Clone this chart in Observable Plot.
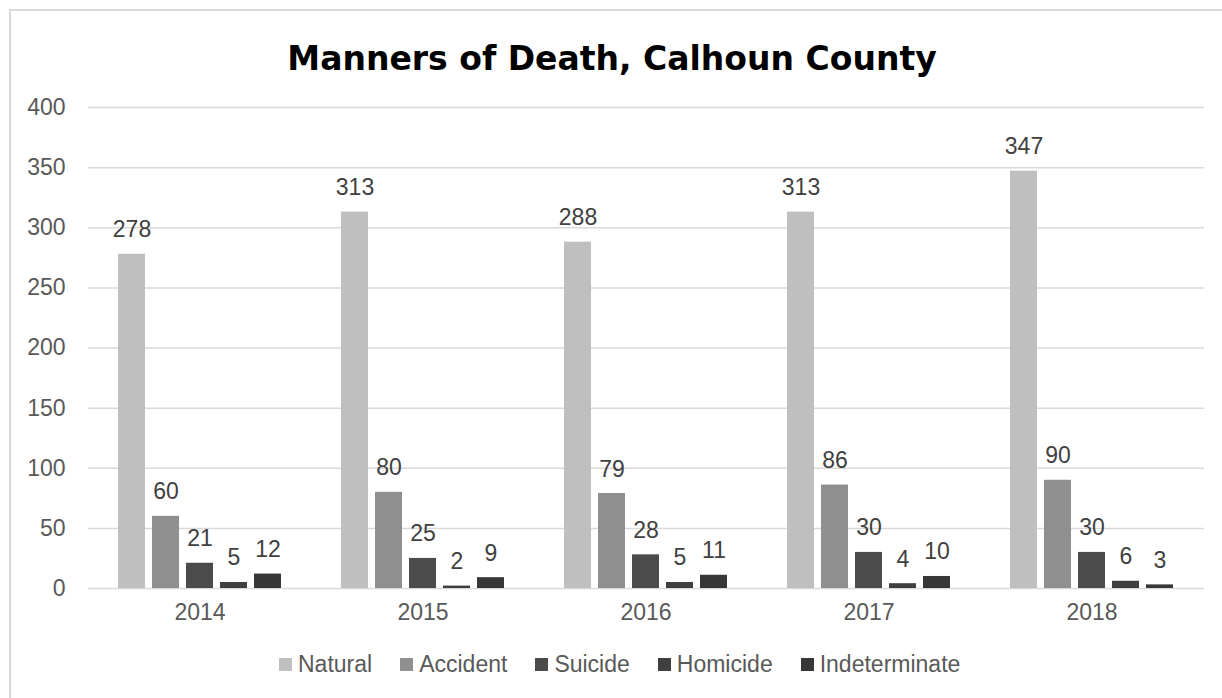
<!DOCTYPE html>
<html>
<head>
<meta charset="utf-8">
<script src="https://cdn.jsdelivr.net/npm/d3@7"></script>
<script src="https://cdn.jsdelivr.net/npm/@observablehq/plot@0.6"></script>
<style>
  html, body { margin: 0; padding: 0; background: #fff; }
  body { width: 1222px; height: 698px; overflow: hidden; position: relative; font-family: "Liberation Sans", Arial, sans-serif; }
  #frame { position: absolute; left: 9px; top: 9px; width: 1400px; height: 900px; border: 2px solid #d9d9d9; box-sizing: border-box; }
  #title { position: absolute; left: 0; top: 42px; width: 1224px; text-align: center; font-family: "DejaVu Sans", sans-serif; font-weight: bold; font-size: 33px; line-height: 33px; color: #000; }
  #chart { position: absolute; left: 0; top: 90px; width: 1222px; height: 543px; }
  #chart svg { position: absolute; left: 0; top: 0; }
  #legend { position: absolute; left: 279px; top: 653px; display: flex; align-items: center; font-size: 23px; line-height: 23px; color: #595959; }
  .item { display: flex; align-items: center; margin-right: 28px; }
  .sw { width: 13px; height: 13px; margin-right: 6px; }
</style>
</head>
<body>
<div id="frame"></div>
<div id="title">Manners of Death, Calhoun County</div>
<div id="chart"></div>
<div id="legend"></div>
<script>
const years = ["2014", "2015", "2016", "2017", "2018"];
const categories = ["Natural", "Accident", "Suicide", "Homicide", "Indeterminate"];
const natural = [278, 313, 288, 313, 347];
const accident = [60, 80, 79, 86, 90];
const suicide = [21, 25, 28, 30, 30];
const homicide = [5, 2, 5, 4, 6];
const indeterminate = [12, 9, 11, 10, 3];
const yTicks = [0, 50, 100, 150, 200, 250, 300, 350, 400];
const colors = ["#bfbfbf", "#8f8f8f", "#4b4b4b", "#3f3f3f", "#373737"];

const series = [natural, accident, suicide, homicide, indeterminate];
const data = [];
years.forEach((yr, i) => categories.forEach((c, j) => data.push({year: yr, cat: c, value: series[j][i]})));

const W = 1222, H = 543;
const common = {
  width: W, height: H,
  marginLeft: 88, marginRight: 18, marginTop: 17, marginBottom: 45,
  style: {fontFamily: '"Liberation Sans", Arial, sans-serif', fontSize: "23px", color: "#595959", background: "transparent", overflow: "visible"}
};

// Background: y axis + full-width gridlines
const back = Plot.plot({
  ...common,
  x: {domain: [0, 1], axis: null},
  y: {domain: [0, 400], ticks: yTicks, tickSize: 0, tickPadding: 23, label: null, tickFormat: d => String(d)},
  marks: [
    Plot.ruleY(yTicks, {stroke: "#d9d9d9", strokeWidth: 1.5})
  ]
});

// Foreground: grouped bars
const front = Plot.plot({
  ...common,
  fx: {domain: years, paddingInner: 0.268, paddingOuter: 0.134, axis: "bottom", tickSize: 0, tickPadding: 15, label: null},
  x: {domain: categories, paddingInner: 0.22, paddingOuter: 0, axis: null},
  y: {domain: [0, 400], axis: null},
  color: {domain: categories, range: colors},
  marks: [
    Plot.barY(data, {fx: "year", x: "cat", y: "value", fill: "cat"}),
    Plot.text(data, {fx: "year", x: "cat", y: "value", text: d => String(d.value), lineAnchor: "bottom", dy: -17, fill: "#404040", fontSize: 23})
  ]
});

const chart = document.getElementById("chart");
chart.appendChild(back);
chart.appendChild(front);

const legend = document.getElementById("legend");
categories.forEach((c, j) => {
  const it = document.createElement("div");
  it.className = "item";
  const sw = document.createElement("span");
  sw.className = "sw";
  sw.style.background = colors[j];
  const tx = document.createElement("span");
  tx.textContent = c;
  it.appendChild(sw);
  it.appendChild(tx);
  legend.appendChild(it);
});
</script>
</body>
</html>
